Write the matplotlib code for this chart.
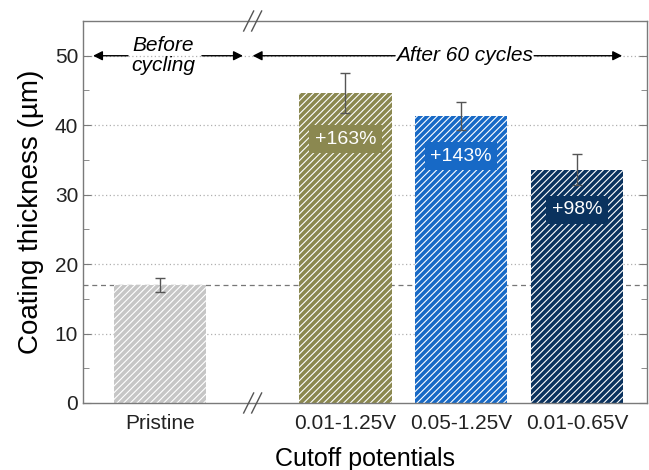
import matplotlib
matplotlib.use("Agg")
import matplotlib.pyplot as plt
from matplotlib.ticker import MultipleLocator
import matplotlib.transforms as mtransforms

plt.rcParams['font.family'] = ['Liberation Sans', 'DejaVu Sans']
plt.rcParams['hatch.linewidth'] = 0.8

categories = ["Pristine", "0.01-1.25V", "0.05-1.25V", "0.01-0.65V"]
thickness = [17.0, 44.6, 41.3, 33.6]
errors = [1.0, 2.9, 2.0, 2.2]
increase_labels = ["", "+163%", "+143%", "+98%"]
label_y = [0, 38.0, 35.5, 27.8]
colors = ["#c6c6c6", "#8b8850", "#1769c6", "#0a325e"]
positions = [0.0, 1.6, 2.6, 3.6]
baseline = 17.0

fig = plt.figure(figsize=(6.49, 4.70), dpi=100)
ax = fig.add_axes([0.128, 0.1426, 0.869, 0.8127])

ax.set_xlim(-0.664, 4.205)
ax.set_ylim(0, 55)

# grid
for g in [10, 20, 30, 40, 50]:
    ax.axhline(g, color="#b0b0b0", lw=0.9, ls=(0, (1, 2)), zorder=0)
ax.axhline(baseline, color="#777777", lw=0.9, ls=(0, (4, 3)), zorder=0.5)

for x, v, c in zip(positions, thickness, colors):
    ax.bar(x, v, width=0.8, color=c, edgecolor="white", linewidth=0,
           hatch="/////", zorder=2)
ax.errorbar(positions, thickness, yerr=errors, fmt="none", ecolor="#555555",
            elinewidth=1.0, capsize=3.5, capthick=1.0, zorder=3)

for x, t, y, c in zip(positions, increase_labels, label_y, colors):
    if t:
        ax.text(x, y, t, ha="center", va="center", color="white", fontsize=14,
                bbox=dict(boxstyle="square,pad=0.28", fc=c, ec="none"), zorder=4)

# ticks
ax.yaxis.set_major_locator(MultipleLocator(10))
ax.yaxis.set_minor_locator(MultipleLocator(5))
ax.tick_params(axis="y", which="both", direction="in", right=True,
               labelsize=15, colors="#7a7a7a", labelcolor="#222222")
ax.tick_params(axis="y", which="major", length=6)
ax.tick_params(axis="y", which="minor", length=4)
ax.set_xticks(positions)
ax.set_xticklabels(categories, fontsize=15, color="#222222")
ax.tick_params(axis="x", length=0, pad=8)
for s in ax.spines.values():
    s.set_color("#7a7a7a")
    s.set_linewidth(1.0)

ax.set_ylabel("Coating thickness (µm)", fontsize=20, labelpad=8)
ax.set_xlabel("Cutoff potentials", fontsize=18, labelpad=10)

# arrows at 50
ap = dict(arrowstyle="-|>", color="black", lw=1.0, mutation_scale=14,
          shrinkA=0, shrinkB=0)
ax.annotate("", xy=(-0.578, 50), xytext=(-0.276, 50), arrowprops=ap, zorder=5)
ax.annotate("", xy=(0.716, 50), xytext=(0.362, 50), arrowprops=ap, zorder=5)
ax.text(0.026, 50, "Before\ncycling", ha="center", va="center", fontsize=15,
        style="italic", linespacing=1.1)
ax.annotate("", xy=(0.80, 50), xytext=(2.03, 50), arrowprops=ap, zorder=5)
ax.annotate("", xy=(3.99, 50), xytext=(3.23, 50), arrowprops=ap, zorder=5)
ax.text(2.63, 50, "After 60 cycles", ha="center", va="center", fontsize=15,
        style="italic", bbox=dict(fc="white", ec="none", pad=1))

# axis break marks
xb = 0.80
pxx = 1 / 116.0
pxy = 1 / 382.0
trans = mtransforms.blended_transform_factory(ax.transData, ax.transAxes)
for ybase in [0.0, 1.0]:
    for off in [-4, 4]:
        ax.plot([xb + (off - 5) * pxx, xb + (off + 5) * pxx],
                [ybase - 10 * pxy, ybase + 10 * pxy], color="#555555",
                lw=1.0, transform=trans, clip_on=False, zorder=6)

fig.savefig("out.png", dpi=100)
